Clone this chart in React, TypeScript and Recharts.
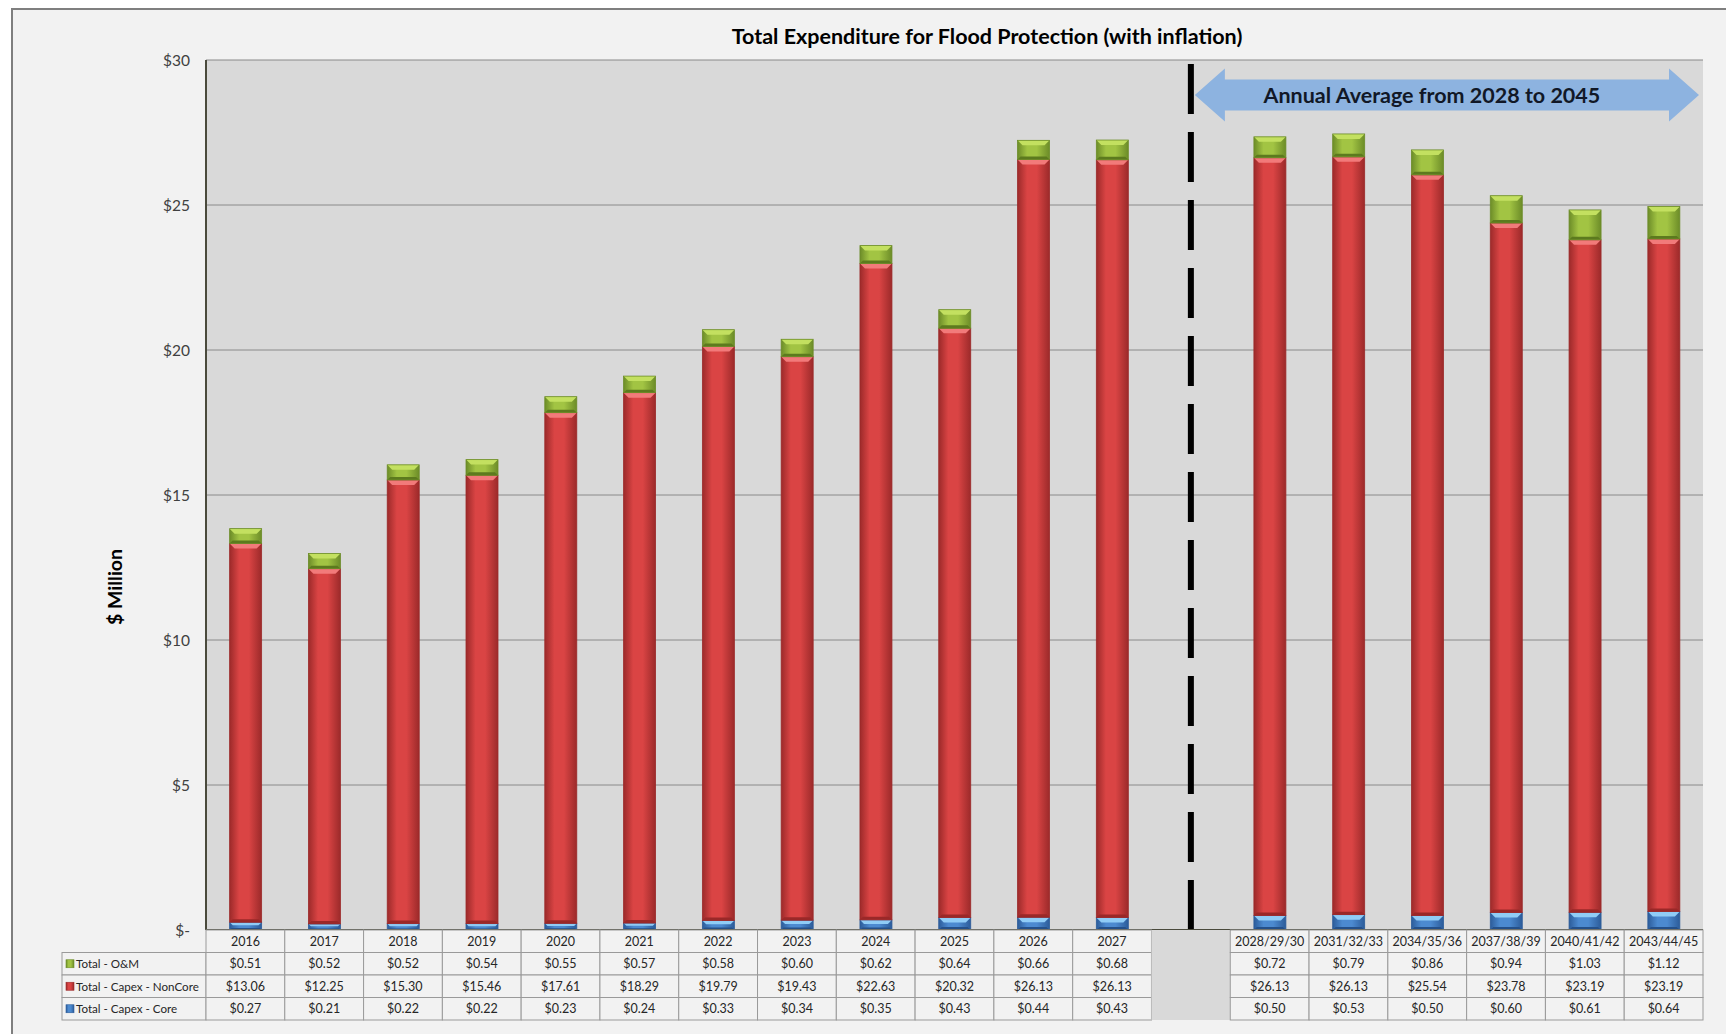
import { BarChart, Bar, XAxis, YAxis, CartesianGrid, ReferenceLine } from 'recharts';

// categories (the empty 'gap' slot holds the dashed separator)
const periods = [
  '2016', '2017', '2018', '2019', '2020', '2021', '2022', '2023', '2024', '2025', '2026', '2027',
  'gap',
  '2028/29/30', '2031/32/33', '2034/35/36', '2037/38/39', '2040/41/42', '2043/44/45',
];
const omValues = [0.51, 0.52, 0.52, 0.54, 0.55, 0.57, 0.58, 0.6, 0.62, 0.64, 0.66, 0.68, null, 0.72, 0.79, 0.86, 0.94, 1.03, 1.12];
const nonCoreValues = [13.06, 12.25, 15.3, 15.46, 17.61, 18.29, 19.79, 19.43, 22.63, 20.32, 26.13, 26.13, null, 26.13, 26.13, 25.54, 23.78, 23.19, 23.19];
const coreValues = [0.27, 0.21, 0.22, 0.22, 0.23, 0.24, 0.33, 0.34, 0.35, 0.43, 0.44, 0.43, null, 0.5, 0.53, 0.5, 0.6, 0.61, 0.64];
const yTicks = [0, 5, 10, 15, 20, 25, 30];

const seriesRows = [
  { key: 'om', label: 'Total - O&M', values: omValues, tone: 'green' },
  { key: 'nonCore', label: 'Total - Capex - NonCore', values: nonCoreValues, tone: 'red' },
  { key: 'core', label: 'Total - Capex - Core', values: coreValues, tone: 'blue' },
];

const data = periods.map((p, i) => ({
  period: p,
  om: omValues[i],
  nonCore: nonCoreValues[i],
  core: coreValues[i],
}));

const W = 1726;
const H = 1034;
const PLOT_LEFT = 206;
const PLOT_RIGHT = 1703;
const PLOT_TOP = 60;
const PLOT_BOTTOM = 930;
const BAND = (PLOT_RIGHT - PLOT_LEFT) / periods.length;
const ROW_H = 22.5;
const FONT = 'Lato, "Noto Sans", sans-serif';

const tones: Record<string, { edge: string; mid: string; top: string; bottom: string }> = {
  red: { edge: '#9c2a2a', mid: '#da4444', top: '#f27a7a', bottom: '#9a2828' },
  green: { edge: '#6c8c28', mid: '#a2c443', top: '#c3e060', bottom: '#5c7a1e' },
  blue: { edge: '#2c5c9a', mid: '#4c8ad0', top: '#90ccf6', bottom: '#24508a' },
};

const BevelBar = (props: any) => {
  const { x, y, width, height, tone } = props;
  if (!height || height <= 0 || x == null) return null;
  const c = tones[tone];
  const b = Math.min(5, height / 2.5);
  const bb = Math.min(3, height / 4);
  return (
    <g>
      <rect x={x} y={y} width={width} height={height} fill={`url(#body-${tone})`} />
      <polygon
        points={`${x},${y} ${x + width},${y} ${x + width - b},${y + b} ${x + b},${y + b}`}
        fill={c.top}
      />
      <polygon
        points={`${x},${y + height} ${x + width},${y + height} ${x + width - bb},${y + height - bb} ${x + bb},${y + height - bb}`}
        fill={c.bottom}
      />
      <rect x={x} y={y} width={width} height={height} fill="none" stroke={c.edge} strokeWidth={0.8} />
    </g>
  );
};

const TableTick = (props: any) => {
  const { x, y, payload } = props;
  const i = periods.indexOf(payload.value);
  const x0 = x - BAND / 2;
  if (payload.value === 'gap') {
    return <rect x={x0} y={y} width={BAND} height={ROW_H * 4} fill="#d9d9d9" />;
  }
  return (
    <g fontFamily={FONT} fontSize={12.5} fill="#262626">
      {i === 0 && (
        <g fontSize={11.6}>
          {seriesRows.map((s, r) => (
            <g key={s.key}>
              <rect x={62} y={y + (r + 1) * ROW_H} width={x0 - 62} height={ROW_H} fill="#f2f2f2" stroke="#9a9a9a" />
              <rect x={66} y={y + (r + 1) * ROW_H + ROW_H / 2 - 4} width={8} height={8} fill={`url(#body-${s.tone})`} stroke={tones[s.tone].edge} strokeWidth={0.6} />
              <text x={76} y={y + (r + 1) * ROW_H + ROW_H / 2} dominantBaseline="central" fill="#262626">
                {s.label}
              </text>
            </g>
          ))}
        </g>
      )}
      <rect x={x0} y={y} width={BAND} height={ROW_H} fill="#f2f2f2" stroke="#9a9a9a" />
      <text x={x} y={y + ROW_H / 2} textAnchor="middle" dominantBaseline="central">
        {payload.value}
      </text>
      {seriesRows.map((s, r) => (
        <g key={s.key}>
          <rect x={x0} y={y + (r + 1) * ROW_H} width={BAND} height={ROW_H} fill="#f2f2f2" stroke="#9a9a9a" />
          <text x={x} y={y + (r + 1) * ROW_H + ROW_H / 2} textAnchor="middle" dominantBaseline="central">
            {`$${(s.values[i] as number).toFixed(2)}`}
          </text>
        </g>
      ))}
    </g>
  );
};

export default function App() {
  const gapCenter = PLOT_LEFT + BAND * (periods.indexOf('gap') + 0.5);
  const arrowL = gapCenter + 4;
  const arrowR = PLOT_RIGHT - 4;
  const arrowY = 95;
  const head = 30;
  const headH = 26.5;
  const shaftH = 15.5;
  const arrowPts = [
    [arrowL, arrowY],
    [arrowL + head, arrowY - headH],
    [arrowL + head, arrowY - shaftH],
    [arrowR - head, arrowY - shaftH],
    [arrowR - head, arrowY - headH],
    [arrowR, arrowY],
    [arrowR - head, arrowY + headH],
    [arrowR - head, arrowY + shaftH],
    [arrowL + head, arrowY + shaftH],
    [arrowL + head, arrowY + headH],
  ]
    .map((p) => p.join(','))
    .join(' ');

  return (
    <div style={{ position: 'fixed', left: 0, top: 0, width: W, height: H, overflow: 'hidden', background: '#fff' }}>
      <div
        style={{
          position: 'absolute',
          left: 11,
          top: 8,
          width: W + 50,
          height: H + 50,
          border: '2px solid #7f7f7f',
          background: '#f2f2f2',
        }}
      />
      <div style={{ position: 'absolute', left: 0, top: 0 }}>
        <BarChart
          width={W}
          height={H}
          data={data}
          margin={{ top: PLOT_TOP, right: W - PLOT_RIGHT, bottom: H - PLOT_BOTTOM - 90, left: 0 }}
          barCategoryGap="30%"
        >
          <defs>
            {Object.entries(tones).map(([k, c]) => (
              <linearGradient key={k} id={`body-${k}`} x1="0" y1="0" x2="1" y2="0">
                <stop offset="0%" stopColor={c.edge} />
                <stop offset="30%" stopColor={c.mid} />
                <stop offset="60%" stopColor={c.mid} />
                <stop offset="100%" stopColor={c.edge} />
              </linearGradient>
            ))}
          </defs>
          <CartesianGrid vertical={false} fill="#d9d9d9" stroke="#8a8a8a" strokeOpacity={1} />
          <XAxis
            dataKey="period"
            height={90}
            interval={0}
            tickLine={false}
            tickSize={0}
            tickMargin={0}
            axisLine={{ stroke: '#4a4a3c', strokeWidth: 2 }}
            tick={<TableTick />}
          />
          <YAxis
            width={PLOT_LEFT}
            domain={[0, 30]}
            ticks={yTicks}
            tickLine={false}
            tickSize={8}
            tickMargin={8}
            axisLine={{ stroke: '#4a4a3c', strokeWidth: 2 }}
            tick={{ fontSize: 15.5, fill: '#404040', fontFamily: FONT }}
            tickFormatter={(v: number) => (v === 0 ? '$-' : `$${v}`)}
          />
          <ReferenceLine x="gap" stroke="#000" strokeWidth={6} strokeDasharray="50 18" />
          <Bar dataKey="core" stackId="a" isAnimationActive={false} shape={(p: any) => <BevelBar {...p} tone="blue" />} />
          <Bar dataKey="nonCore" stackId="a" isAnimationActive={false} shape={(p: any) => <BevelBar {...p} tone="red" />} />
          <Bar dataKey="om" stackId="a" isAnimationActive={false} shape={(p: any) => <BevelBar {...p} tone="green" />} />
        </BarChart>
      </div>
      <svg width={W} height={H} style={{ position: 'absolute', left: 0, top: 0, pointerEvents: 'none' }}>
        <text
          x={987}
          y={36}
          textAnchor="middle"
          dominantBaseline="central"
          fontFamily={FONT}
          fontWeight="bold"
          fontSize={21.5}
          fill="#000"
        >
          Total Expenditure for Flood Protection (with inflation)
        </text>
        <text
          x={114}
          y={587}
          transform="rotate(-90 114 587)"
          textAnchor="middle"
          dominantBaseline="central"
          fontFamily={FONT}
          fontWeight="bold"
          fontSize={19.5}
          fill="#000"
        >
          $ Million
        </text>
        <polygon points={arrowPts} fill="#8db3e0" />
        <text
          x={(arrowL + arrowR) / 2 - 15}
          y={arrowY}
          textAnchor="middle"
          dominantBaseline="central"
          fontFamily={FONT}
          fontWeight="bold"
          fontSize={21.5}
          fill="#111827"
        >
          Annual Average from 2028 to 2045
        </text>
      </svg>
    </div>
  );
}
